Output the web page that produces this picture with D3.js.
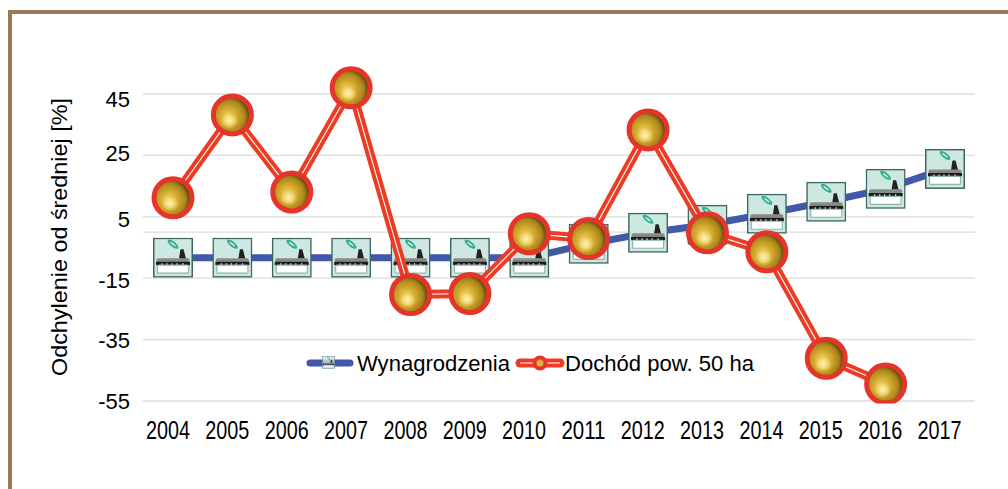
<!DOCTYPE html>
<html>
<head>
<meta charset="utf-8">
<script src="https://cdn.jsdelivr.net/npm/d3@7"></script>
<style>
  html, body { margin: 0; padding: 0; background: #fff; }
  svg { display: block; font-family: "Liberation Sans", Arial, sans-serif; }
</style>
</head>
<body>
<div id="chart"></div>
<script>
const years = ["2004", "2005", "2006", "2007", "2008", "2009", "2010", "2011", "2012", "2013", "2014", "2015", "2016", "2017"];
const wynagrodzenia = [-8.3, -8.3, -8.3, -8.3, -8.3, -8.3, -8.3, -3.8, -0.2, 2.4, 6, 9.9, 14.1, 20.6];
const dochod = [11.2, 38.2, 13.1, 47, -20.3, -20, -0.5, -2.1, 33.3, -0.2, -6.4, -41.1, -49.5, null];
const yTicks = [45, 25, 5, -15, -35, -55];
const gridValues = [45, 25, 5, 0, -15, -35, -55];

const width = 1008;
const height = 489;
const left = 143;
const right = 975;
const top_ = 94;
const bottom = 401;
// the y labels do not sit exactly on their grid lines in the original
const yLabelShift = [5, -2, 3, 2, 1, 0];

const xScale = d3.scalePoint().domain(years).range([173, 945]);
const xLabelScale = d3.scalePoint().domain(years).range([167.5, 939]);
const yScale = d3.scaleLinear().domain([-55, 45]).range([bottom, top_]);

const svg = d3
  .select("#chart")
  .append("svg")
  .attr("width", width)
  .attr("height", height);

const defs = svg.append("defs");

const ball = defs
  .append("radialGradient")
  .attr("id", "ball")
  .attr("cx", "40%")
  .attr("cy", "55%")
  .attr("r", "62%");
ball.append("stop").attr("offset", "0%").attr("stop-color", "#f3d76e");
ball.append("stop").attr("offset", "38%").attr("stop-color", "#d3a92c");
ball.append("stop").attr("offset", "70%").attr("stop-color", "#a8831a");
ball.append("stop").attr("offset", "90%").attr("stop-color", "#54400c");
ball.append("stop").attr("offset", "100%").attr("stop-color", "#2c2106");

const glow = defs
  .append("radialGradient")
  .attr("id", "glow");
glow.append("stop").attr("offset", "0%").attr("stop-color", "#fff6c4").attr("stop-opacity", 0.95);
glow.append("stop").attr("offset", "55%").attr("stop-color", "#fbe88e").attr("stop-opacity", 0.6);
glow.append("stop").attr("offset", "100%").attr("stop-color", "#f3d76e").attr("stop-opacity", 0);

// income marker, centred on 0,0
const coin = defs.append("g").attr("id", "coin");
coin.append("circle").attr("r", 19).attr("fill", "url(#ball)").attr("stroke", "#e5352a").attr("stroke-width", 5);
coin.append("ellipse").attr("cx", -3).attr("cy", 6).attr("rx", 9).attr("ry", 8).attr("fill", "url(#glow)");

// icon of the wages series, drawn on a 40x40 box
const icon = defs.append("symbol").attr("id", "icon").attr("viewBox", "0 0 40 40");
icon.append("rect").attr("x", 0.75).attr("y", 0.75).attr("width", 38.5).attr("height", 38.5)
  .attr("fill", "#cde8e0").attr("stroke", "#3d6660").attr("stroke-width", 1.5);
icon.append("ellipse").attr("cx", 20).attr("cy", 6.5).attr("rx", 6.5).attr("ry", 2.6)
  .attr("transform", "rotate(38 20 6.5)").attr("fill", "#2fae90");
icon.append("ellipse").attr("cx", 20).attr("cy", 6.5).attr("rx", 3.5).attr("ry", 0.9)
  .attr("transform", "rotate(38 20 6.5)").attr("fill", "#cde8e0");
icon.append("path").attr("d", "M26 21 L27.5 11.5 L30.5 11.5 L33 21 Z").attr("fill", "#222");
icon.append("rect").attr("x", 3.5).attr("y", 20.5).attr("width", 33).attr("height", 3.5).attr("rx", 1.5).attr("fill", "#8a8a8a");
icon.append("rect").attr("x", 3).attr("y", 24).attr("width", 34).attr("height", 3.5).attr("fill", "#1c1c1c");
icon.append("path").attr("d", "M9 27.5 V25.5 M14 27.5 V25.5 M19 27.5 V25.5 M24 27.5 V25.5 M30 27.5 V25.5")
  .attr("stroke", "#cde8e0").attr("stroke-width", 1.2);
icon.append("rect").attr("x", 4.5).attr("y", 27.5).attr("width", 31).attr("height", 8).attr("rx", 1).attr("fill", "#fff").attr("stroke", "#8fb5ac").attr("stroke-width", 1.2);

defs.append("clipPath").attr("id", "plot-clip")
  .append("rect").attr("x", 0).attr("y", 0).attr("width", width).attr("height", 403.5);

// frame
svg.append("rect").attr("x", 8).attr("y", 10).attr("width", 1000).attr("height", 4).attr("fill", "#9c7854");
svg.append("rect").attr("x", 8).attr("y", 10).attr("width", 4).attr("height", 479).attr("fill", "#9c7854");

// grid
svg
  .selectAll(".grid")
  .data(gridValues)
  .enter()
  .append("line")
  .attr("class", "grid")
  .attr("x1", left)
  .attr("x2", right)
  .attr("y1", (d) => yScale(d))
  .attr("y2", (d) => yScale(d))
  .attr("stroke", "#dcdcdc")
  .attr("stroke-width", 1.3);

// axes
const yAxis = d3.axisLeft(yScale).tickValues(yTicks).tickSize(0).tickPadding(0).tickFormat((d) => String(d));
const yG = svg.append("g").attr("transform", "translate(130,0)").call(yAxis);
yG.select(".domain").remove();
yG.selectAll("text")
  .attr("font-size", 22)
  .attr("fill", "#000")
  .attr("font-family", "Liberation Sans")
  .attr("y", (d, i) => yLabelShift[i]);

const xAxis = d3.axisBottom(xLabelScale).tickSize(0).tickPadding(0);
const xG = svg.append("g").attr("transform", "translate(0,421)").call(xAxis);
xG.select(".domain").remove();
xG.selectAll("text")
  .attr("font-size", 25)
  .attr("fill", "#000")
  .attr("font-family", "Liberation Sans")
  .attr("textLength", 44)
  .attr("lengthAdjust", "spacingAndGlyphs");

svg
  .append("text")
  .attr("transform", "translate(67,237) rotate(-90)")
  .attr("text-anchor", "middle")
  .attr("font-size", 22.5)
  .attr("textLength", 278)
  .attr("lengthAdjust", "spacingAndGlyphs")
  .text("Odchylenie od średniej [%]");

// series lines
const line = d3
  .line()
  .defined((d) => d != null)
  .x((d, i) => xScale(years[i]))
  .y((d) => yScale(d));

svg.append("path").datum(wynagrodzenia).attr("d", line).attr("fill", "none")
  .attr("stroke", "#4258ab").attr("stroke-width", 7);

// wages icons sit below the income line
svg
  .selectAll(".icon")
  .data(wynagrodzenia)
  .enter()
  .append("use")
  .attr("class", "icon")
  .attr("href", "#icon")
  .attr("x", (d, i) => xScale(years[i]) - 20)
  .attr("y", (d) => yScale(d) - 20)
  .attr("width", 40)
  .attr("height", 40);

svg.append("path").datum(dochod).attr("d", line).attr("fill", "none")
  .attr("stroke", "#ee3b24").attr("stroke-width", 9);
svg.append("path").datum(dochod).attr("d", line).attr("fill", "none")
  .attr("stroke", "#fff").attr("stroke-width", 1.1);

svg
  .append("g")
  .attr("clip-path", "url(#plot-clip)")
  .selectAll(".dot")
  .data(dochod.filter((d) => d != null))
  .enter()
  .append("use")
  .attr("class", "dot")
  .attr("href", "#coin")
  .attr("x", (d, i) => xScale(years[i]))
  .attr("y", (d) => yScale(d));

// legend
const legend = svg.append("g").attr("transform", "translate(0,363)");
legend.append("line").attr("x1", 310).attr("x2", 350).attr("y1", 0).attr("y2", 0)
  .attr("stroke", "#4258ab").attr("stroke-width", 7).attr("stroke-linecap", "round");
legend.append("use").attr("href", "#icon").attr("x", 322).attr("y", -7).attr("width", 13).attr("height", 13).attr("opacity", 0.8);
legend.append("text").attr("x", 357).attr("y", 8).attr("font-size", 22).attr("textLength", 153).attr("lengthAdjust", "spacingAndGlyphs").text("Wynagrodzenia");

legend.append("line").attr("x1", 520).attr("x2", 560).attr("y1", 0).attr("y2", 0)
  .attr("stroke", "#ee3b24").attr("stroke-width", 9).attr("stroke-linecap", "round");
legend.append("line").attr("x1", 520).attr("x2", 560).attr("y1", 0).attr("y2", 0)
  .attr("stroke", "#fff").attr("stroke-width", 1.1);
legend.append("circle").attr("cx", 540).attr("cy", 0).attr("r", 5.5).attr("fill", "#d9b43a").attr("stroke", "#e5352a").attr("stroke-width", 4);
legend.append("text").attr("x", 565).attr("y", 8).attr("font-size", 22).attr("textLength", 189).attr("lengthAdjust", "spacingAndGlyphs").text("Dochód pow. 50 ha");
</script>
</body>
</html>
